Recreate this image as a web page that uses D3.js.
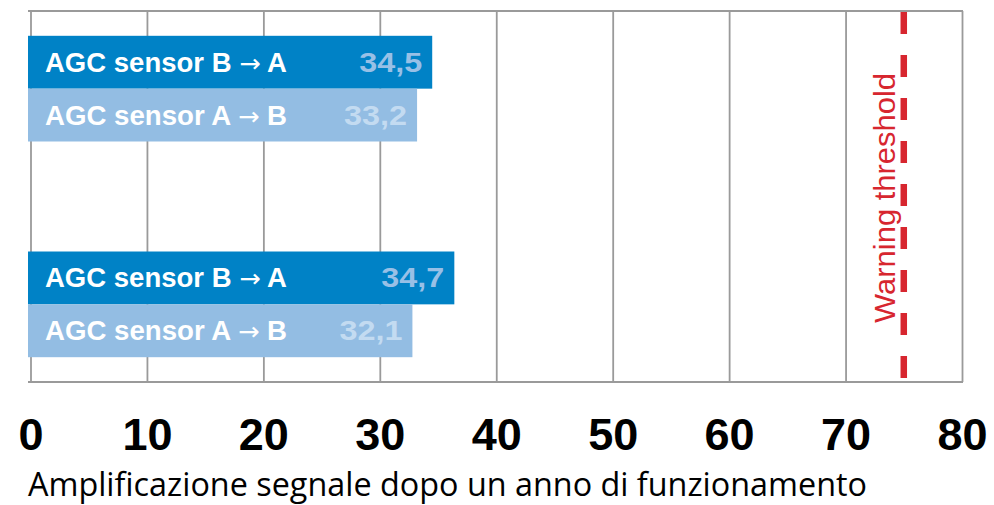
<!DOCTYPE html>
<html>
<head>
<meta charset="utf-8">
<script src="https://cdn.jsdelivr.net/npm/d3@7"></script>
<style>
  body { margin: 0; background: #fff; }
</style>
</head>
<body>
<main></main>
<script>
// data
const groups = ["1", "2"];
const series = ["AGC sensor B \u2192 A", "AGC sensor A \u2192 B"];
const barValues = [
  [34.5, 33.2],
  [36.4, 32.8],
];
const valueLabels = [
  ["34,5", "33,2"],
  ["34,7", "32,1"],
];
const ticks = [0, 10, 20, 30, 40, 50, 60, 70, 80];
const threshold = 75;
const thresholdLabel = "Warning threshold";
const axisTitle = "Amplificazione segnale dopo un anno di funzionamento";

const w = 994;
const h = 505;
const plotTop = 11;
const plotBottom = 382;

const svg = d3
  .select("main")
  .append("svg")
  .attr("width", w)
  .attr("height", h);

const x = d3.scaleLinear().domain([0, 80]).range([30.5, 962]);

const y = d3
  .scaleBand()
  .domain(groups)
  .range([plotTop, plotBottom])
  .paddingInner(0.51)
  .paddingOuter(0.115);

const ySub = d3.scaleBand().domain(series).range([0, y.bandwidth()]);

const barColors = ["#0082c6", "#93bde3"];
const valueColors = ["#98c0e6", "#c3dbf1"];

// grid + tick labels
const axis = svg
  .append("g")
  .attr("transform", `translate(0, ${plotBottom})`)
  .call(
    d3
      .axisBottom(x)
      .tickValues(ticks)
      .tickSize(-(plotBottom - plotTop))
      .tickPadding(36)
  );

axis.select(".domain").remove();
axis
  .selectAll("line")
  .attr("stroke", "#9a9a9a")
  .attr("stroke-width", 1.8);
axis
  .selectAll("text")
  .attr("fill", "#000")
  .style("font-family", "'Liberation Sans', Arial, sans-serif")
  .style("font-weight", "bold")
  .style("font-size", "45px");

// top and bottom frame lines
svg
  .selectAll("frameLine")
  .data([plotTop, plotBottom])
  .enter()
  .append("line")
  .attr("x1", x(0) - 2.5)
  .attr("x2", x(80) + 1)
  .attr("y1", (d) => d)
  .attr("y2", (d) => d)
  .attr("stroke", "#9a9a9a")
  .attr("stroke-width", 1.8);

// bars
const rows = groups.flatMap((g, gi) =>
  series.map((s, si) => ({
    group: g,
    series: s,
    si,
    value: barValues[gi][si],
    label: valueLabels[gi][si],
  }))
);

const bar = svg
  .append("g")
  .selectAll("g")
  .data(rows)
  .join("g")
  .attr("transform", (d) => `translate(0, ${y(d.group) + ySub(d.series)})`);

bar
  .append("rect")
  .attr("x", x(0) - 2.5)
  .attr("width", (d) => x(d.value) - x(0) + 2.5)
  .attr("height", ySub.bandwidth())
  .attr("fill", (d) => barColors[d.si]);

const seriesText = bar
  .append("text")
  .attr("x", x(0) + 14.5)
  .attr("y", ySub.bandwidth() / 2)
  .attr("dy", "0.35em")
  .attr("fill", "#fff")
  .attr("textLength", 242)
  .attr("lengthAdjust", "spacingAndGlyphs")
  .style("font-family", "'Liberation Sans', Arial, sans-serif")
  .style("font-weight", "bold")
  .style("font-size", "27px");

// the arrow is drawn a bit bigger and lighter, as in the original
seriesText.each(function (d) {
  const parts = d.series.split("\u2192");
  const t = d3.select(this);
  t.append("tspan").text(parts[0]);
  t.append("tspan")
    .style("font-family", "'DejaVu Sans', sans-serif")
    .style("font-weight", "normal")
    .style("font-size", "25px")
    .text("\u2192");
  t.append("tspan").text(parts[1]);
});

bar
  .append("text")
  .attr("x", (d) => x(d.value) - 10)
  .attr("y", ySub.bandwidth() / 2)
  .attr("dy", "0.35em")
  .attr("text-anchor", "end")
  .attr("fill", (d) => valueColors[d.si])
  .attr("textLength", 63)
  .attr("lengthAdjust", "spacingAndGlyphs")
  .style("font-family", "'Liberation Sans', Arial, sans-serif")
  .style("font-weight", "bold")
  .style("font-size", "27px")
  .text((d) => d.label);

// warning threshold
svg
  .append("line")
  .attr("x1", x(threshold))
  .attr("x2", x(threshold))
  .attr("y1", plotTop + 1)
  .attr("y2", plotBottom)
  .attr("stroke", "#d7262f")
  .attr("stroke-width", 6.5)
  .attr("stroke-dasharray", "22,21");

svg
  .append("text")
  .attr("transform", `translate(${x(threshold) - 9}, 198) rotate(-90)`)
  .attr("text-anchor", "middle")
  .attr("fill", "#d7262f")
  .attr("textLength", 250)
  .attr("lengthAdjust", "spacingAndGlyphs")
  .style("font-family", "'Liberation Sans', Arial, sans-serif")
  .style("font-size", "29px")
  .text(thresholdLabel);

// axis title
svg
  .append("text")
  .attr("x", 28)
  .attr("y", 496)
  .attr("fill", "#000")
  .attr("textLength", 839)
  .attr("lengthAdjust", "spacingAndGlyphs")
  .style("font-family", "'Open Sans', sans-serif")
  .style("font-size", "32px")
  .text(axisTitle);
</script>
</body>
</html>
